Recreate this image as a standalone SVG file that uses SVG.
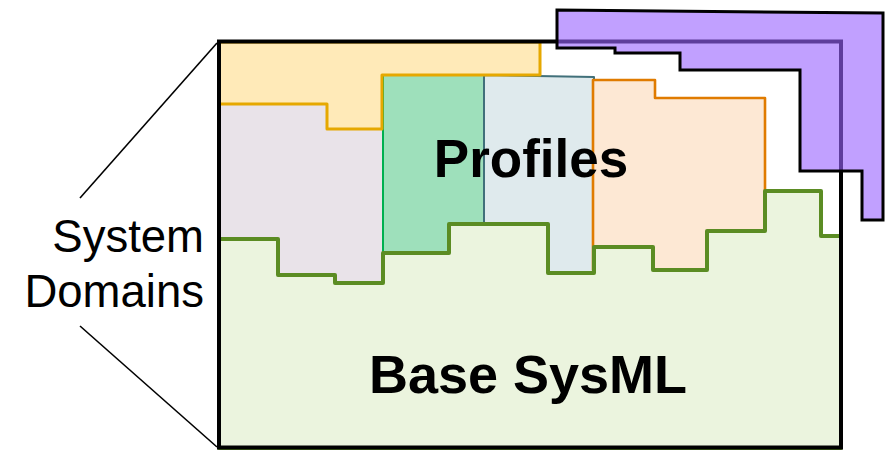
<svg xmlns="http://www.w3.org/2000/svg" width="892" height="451" viewBox="0 0 892 451">
  <style>
    .lbl { font-family: "Liberation Sans", Arial, sans-serif; fill: #000; }
    .big { font-weight: bold; text-anchor: middle; }
    .side { font-size: 45.5px; text-anchor: end; }
    .lead { stroke: #000; stroke-width: 1.6; fill: none; }
    .region { stroke-linejoin: round; }
  </style>
  <rect width="892" height="451" fill="#fff"/>

  <!-- domain regions inside the frame -->
  <g id="domain-lavender" class="region">
    <path d="M219,104 L383,104 L383,283 L219,283 Z" fill="#E9E3E9" stroke="#8E6E8E" stroke-width="1.6"/>
  </g>
  <g id="domain-green" class="region">
    <path d="M383,75 L484,75 L484,260 L383,260 Z" fill="#9EE0BB" stroke="#00B050" stroke-width="2"/>
  </g>
  <g id="domain-blue" class="region">
    <path d="M484,75 L594,77 L594,274 L484,274 Z" fill="#DFEAED" stroke="#41707A" stroke-width="2"/>
  </g>
  <g id="domain-orange" class="region">
    <path d="M593,80 L655,80 L655,98 L765,98 L765,270 L593,270 Z" fill="#FDE8D4" stroke="#E07B00" stroke-width="2.6"/>
  </g>
  <g id="domain-yellow" class="region">
    <path d="M219,42 L540,42 L540,75 L382,75 L382,129 L327,129 L327,104 L219,104 Z" fill="#FFEAB8" stroke="#E6A800" stroke-width="3"/>
  </g>

  <!-- base layer with stepped upper edge -->
  <g id="base-sysml" class="region">
    <path d="M219,239 L278,239 L278,275 L335,275 L335,283 L383,283 L383,253 L449,253 L449,224 L548,224 L548,273 L594,273 L594,247 L653,247 L653,270 L707,270 L707,231 L765,231 L765,191 L821,191 L821,236 L841,236 L841,448 L219,448 Z" fill="#EBF4DE" stroke="#5B8C23" stroke-width="4"/>
  </g>

  <!-- outer frame -->
  <g id="frame">
    <rect x="219" y="41.5" width="622" height="406" fill="none" stroke="#000" stroke-width="4"/>
  </g>

  <!-- extension shape overlapping the frame corner -->
  <g id="extension">
    <path d="M557,10 L883,13 L883,220 L862,220 L862,171 L800,171 L800,70 L680,70 L680,53 L615,53 L615,48 L557,48 Z" fill="#9A64FF" fill-opacity="0.61" stroke="#000" stroke-width="3"/>
  </g>

  <!-- side label leader lines -->
  <g id="connectors">
    <line class="lead" x1="80" y1="198" x2="217" y2="43"/>
    <line class="lead" x1="80" y1="326" x2="217" y2="447"/>
  </g>

  <g id="labels">
    <text class="lbl big" x="531" y="177" font-size="53">Profiles</text>
    <text class="lbl big" x="528" y="393" font-size="54">Base SysML</text>
    <text class="lbl side" x="204" y="252">System</text>
    <text class="lbl side" x="204" y="307">Domains</text>
  </g>
</svg>
